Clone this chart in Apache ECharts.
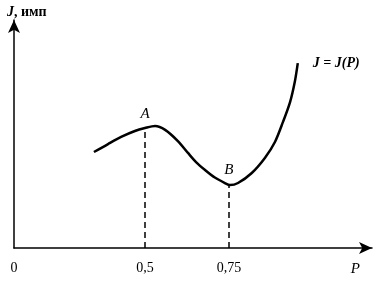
<!DOCTYPE html>
<html><head><meta charset="utf-8">
<script src="https://cdn.jsdelivr.net/npm/echarts@6/dist/echarts.min.js"></script>
<style>html,body{margin:0;padding:0;background:#fff}#c{width:378px;height:281px}</style>
</head><body><div id="c"></div>
<script>
// Schematic curve J = J(P)
var curveP = [0.348,0.390,0.429,0.470,0.500,0.530,0.560,0.598,0.628,0.652,0.679,0.708,0.738,0.753,0.777,0.818,0.857,0.887,0.911,0.932,0.946,0.955];
var curveJ = [0.421,0.456,0.487,0.513,0.526,0.535,0.518,0.469,0.417,0.377,0.342,0.309,0.285,0.276,0.285,0.329,0.395,0.465,0.553,0.640,0.728,0.811];
var pointNames = ['A','B'];
var pointP = [0.5, 0.75];
var pointJ = [0.526, 0.277];
var xTickValues = [0.11, 0.5, 0.75];
var xTickLabels = ['0', '0,5', '0,75'];
var xMin = 0.11, xMax = 1.176;
var curveName = 'J = J(P)';

var curveData = curveP.map(function(p,i){return [p, curveJ[i]];});
var ptsData = pointNames.map(function(n,i){return {name:n, value:[pointP[i], pointJ[i]]};});
var dashData = pointNames.map(function(n,i){return [{coord:[pointP[i],0]},{coord:[pointP[i],pointJ[i]]}];});

var serif = '"Liberation Serif", "DejaVu Serif", serif';
var chart = echarts.init(document.getElementById('c'));
chart.setOption({
  animation:false,
  grid:{left:14,right:6,top:20,bottom:33,containLabel:false,outerBoundsMode:'none'},
  xAxis:{type:'value',min:xMin,max:xMax,
    axisLine:{lineStyle:{color:'#000',width:1.5},symbol:['none','arrow'],symbolSize:[9,13]},
    axisTick:{show:false},splitLine:{show:false},
    axisLabel:{customValues:xTickValues,margin:13,color:'#000',fontFamily:serif,fontSize:14,
      formatter:function(v){var k=xTickValues.indexOf(v);return k>=0?xTickLabels[k]:'';}},
    name:'P',nameLocation:'end',nameGap:-12,
    nameTextStyle:{fontFamily:serif,fontStyle:'italic',fontSize:15,color:'#000',verticalAlign:'top',align:'right',padding:[14,0,0,0]}
  },
  yAxis:{type:'value',min:0,max:1,
    axisLine:{show:true,lineStyle:{color:'#000',width:1.5},symbol:['none','arrow'],symbolSize:[9,13]},
    axisTick:{show:false},axisLabel:{show:false},splitLine:{show:false},
    name:'{j|J}{t|, имп}',nameLocation:'end',nameGap:1,
    nameTextStyle:{align:'left',padding:[0,0,0,-7],
      rich:{j:{fontFamily:serif,fontStyle:'italic',fontWeight:'bold',fontSize:14,color:'#000'},
            t:{fontFamily:serif,fontWeight:'bold',fontSize:14,color:'#000'}}}
  },
  series:[
    {type:'line',data:curveData,smooth:0.3,symbol:'none',lineStyle:{color:'#000',width:2.5},
      endLabel:{show:true,formatter:curveName,fontFamily:serif,fontStyle:'italic',fontWeight:'bold',fontSize:14,color:'#000',offset:[7,0]},
      markLine:{silent:true,symbol:['none','none'],label:{show:false},
        lineStyle:{color:'#000',type:[6,4],width:1.5},data:dashData}},
    {type:'scatter',data:ptsData,symbolSize:0,itemStyle:{opacity:1,color:'#000'},
      label:{show:true,position:'top',distance:7,formatter:'{b}',fontFamily:serif,fontStyle:'italic',fontSize:15,color:'#000'}}
  ]
});
</script></body></html>
